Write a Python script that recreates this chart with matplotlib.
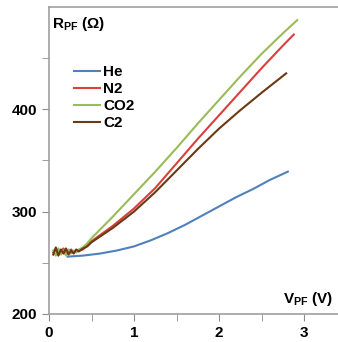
import matplotlib
matplotlib.use('Agg')
import matplotlib.pyplot as plt
from matplotlib.ticker import MultipleLocator, FixedLocator

# noisy start region
start_x = [0.05, 0.08, 0.11, 0.14, 0.17, 0.20, 0.23, 0.26, 0.29, 0.32, 0.35, 0.40, 0.45]
start_c2 = [258, 265, 257, 263, 259, 264, 258, 262, 259, 263, 261, 264, 266]
start_co2 = [262, 257, 264, 258, 262, 257, 263, 259, 262, 260, 263, 265, 269]
start_n2 = [260, 263, 258, 261, 264, 258, 261, 263, 260, 262, 262, 263, 267]

he_x = [0.22, 0.4, 0.6, 0.8, 1.0, 1.2, 1.4, 1.6, 1.8, 2.0, 2.2, 2.4, 2.6, 2.81]
he_y = [256, 257, 259, 262, 266, 272, 279, 287, 296, 305, 314, 322, 331, 339]

rise_x = [0.5, 0.75, 1.0, 1.25, 1.5, 1.75, 2.0, 2.25, 2.5]
n2_y = [271, 286, 303, 323, 347, 371, 394, 417, 440]
co2_y = [274, 295, 317, 339, 362, 386, 409, 432, 454]
c2_y = [270, 284, 300, 319, 340, 361, 381, 399, 416]
n2_tail_x = [2.75, 2.88]
n2_tail_y = [462, 473]
co2_tail_x = [2.75, 2.92]
co2_tail_y = [474, 487]
c2_tail_x = [2.79]
c2_tail_y = [435]

labels = ['He', 'N2', 'CO2', 'C2']
colors = ['#4F81BD', '#D9403C', '#9BBB59', '#6B3A14']

plt.rcParams['font.family'] = ['Liberation Sans', 'DejaVu Sans']
fig = plt.figure(figsize=(3.38, 3.42), dpi=100)
ax = fig.add_axes([0.145, 0.082, 0.855, 0.898])

ax.plot(he_x, he_y, color=colors[0], lw=1.5, label=labels[0])
ax.plot(start_x + rise_x + n2_tail_x, start_n2 + n2_y + n2_tail_y,
        color=colors[1], lw=1.5, label=labels[1])
ax.plot(start_x + rise_x + co2_tail_x, start_co2 + co2_y + co2_tail_y,
        color=colors[2], lw=1.5, label=labels[2])
ax.plot(start_x + rise_x + c2_tail_x, start_c2 + c2_y + c2_tail_y,
        color=colors[3], lw=1.5, label=labels[3])

ax.set_xlim(0, 3.4)
ax.set_ylim(200, 500)
ax.xaxis.set_major_locator(MultipleLocator(1))
ax.xaxis.set_minor_locator(MultipleLocator(0.5))
ax.yaxis.set_major_locator(FixedLocator([200, 300, 400]))
ax.yaxis.set_minor_locator(FixedLocator([250, 350, 450]))
ax.tick_params(which='both', direction='out', length=5, color='#8c8c8c',
               labelsize=11)
for lab in ax.get_xticklabels() + ax.get_yticklabels():
    lab.set_fontweight('bold')

ax.spines['right'].set_visible(False)
for s in ['left', 'bottom', 'top']:
    ax.spines[s].set_color('#a0a0a0')
    ax.spines[s].set_linewidth(1.2)

ax.text(0.012, 0.975, r'R$_{\mathregular{PF}}$ ($\mathregular{\Omega}$)',
        transform=ax.transAxes, ha='left', va='top', fontsize=11, fontweight='bold')
ax.text(0.985, 0.02, r'V$_{\mathregular{PF}}$ (V)',
        transform=ax.transAxes, ha='right', va='bottom', fontsize=11, fontweight='bold')

ax.legend(loc='upper left', bbox_to_anchor=(0.04, 0.855), frameon=False,
          handlelength=1.7, handletextpad=0.2, labelspacing=0.2,
          prop={'size': 11, 'weight': 'bold'})

fig.savefig('out.png', dpi=100)
